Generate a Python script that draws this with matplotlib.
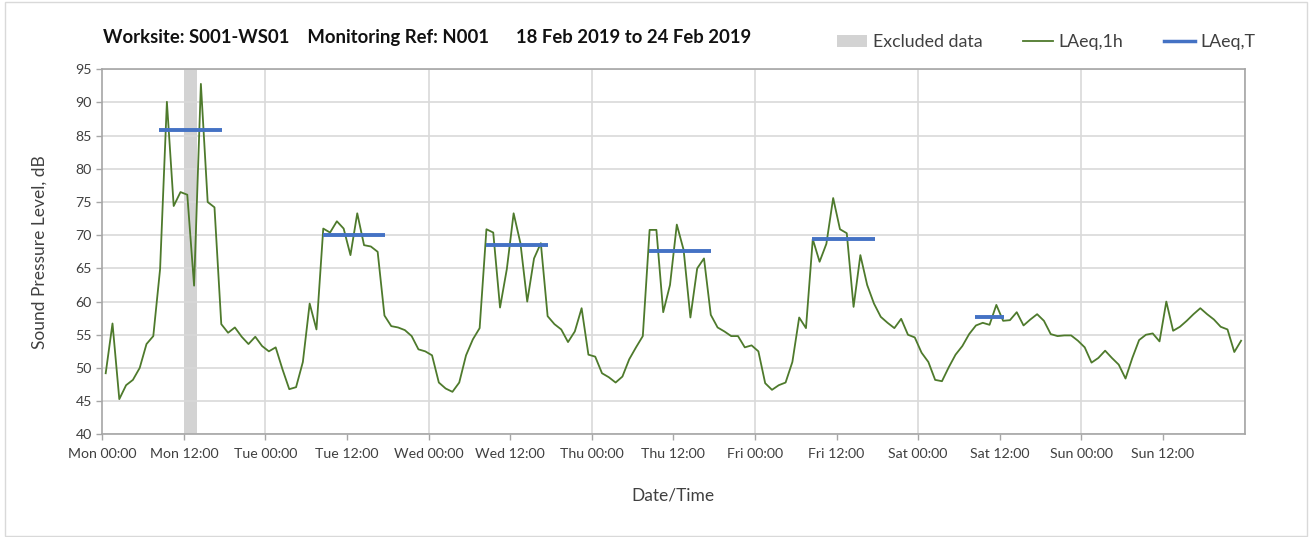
import matplotlib
matplotlib.use("Agg")
import matplotlib.pyplot as plt
import numpy as np
from matplotlib.lines import Line2D
from matplotlib.patches import Patch, Rectangle

plt.rcParams['font.family'] = ['Lato', 'DejaVu Sans']

# hourly LAeq,1h values, Mon 00:00 -> Sun 23:00
laeq_1h = [
    49.2, 56.7, 45.3, 47.4, 48.2, 50.0, 53.6, 54.8, 64.9, 90.1, 74.4, 76.5,
    76.1, 62.4, 92.8, 75.0, 74.2, 56.6, 55.3, 56.1, 54.7, 53.6, 54.7, 53.3,
    52.5, 53.1, 49.8, 46.8, 47.1, 50.9, 59.7, 55.8, 71.0, 70.4, 72.1, 71.0,
    67.0, 73.3, 68.5, 68.3, 67.5, 57.9, 56.3, 56.1, 55.7, 54.8, 52.8, 52.5,
    51.9, 47.8, 46.9, 46.4, 47.8, 51.9, 54.3, 56.0, 70.9, 70.4, 59.1, 64.9,
    73.3, 68.8, 60.0, 66.5, 68.8, 57.8, 56.6, 55.8, 53.9, 55.5, 59.0, 52.0,
    51.7, 49.2, 48.6, 47.8, 48.7, 51.3, 53.1, 54.8, 70.8, 70.8, 58.4, 62.5,
    71.6, 67.8, 57.6, 65.0, 66.5, 58.0, 56.1, 55.5, 54.8, 54.8, 53.1, 53.4,
    52.5, 47.7, 46.7, 47.4, 47.8, 50.9, 57.6, 56.0, 69.4, 66.0, 68.7, 75.6,
    70.9, 70.3, 59.2, 67.0, 62.5, 59.7, 57.7, 56.8, 56.0, 57.4, 55.0, 54.6,
    52.3, 50.9, 48.2, 48.0, 50.1, 52.0, 53.3, 55.1, 56.4, 56.8, 56.5, 59.5,
    57.1, 57.2, 58.4, 56.4, 57.3, 58.1, 57.1, 55.1, 54.8, 54.9, 54.9, 54.1,
    53.1, 50.8, 51.5, 52.6, 51.5, 50.5, 48.4, 51.5, 54.2, 55.0, 55.2, 54.0,
    60.0, 55.6, 56.2, 57.1, 58.1, 59.0, 58.1, 57.3, 56.2, 55.8, 52.4, 54.1,
]

# LAeq,T per working period: (start hour, end hour, level)
laeq_t_start = [8.4, 32.4, 56.4, 80.4, 104.4, 128.4]
laeq_t_end = [17.6, 41.6, 65.6, 89.6, 113.6, 132.6]
laeq_t_level = [85.9, 70.0, 68.6, 67.6, 69.5, 57.6]

# excluded period (hours from Mon 00:00)
excl_start, excl_end = 12, 14

days = ['Mon', 'Tue', 'Wed', 'Thu', 'Fri', 'Sat', 'Sun']
tick_labels = [f'{d} {h}' for d in days for h in ('00:00', '12:00')]

green = '#4e7a2c'
blue = '#4472c4'
grey_band = '#d3d3d3'
grid_c = '#d9d9d9'
axis_c = '#a6a6a6'
text_c = '#404040'

fig = plt.figure(figsize=(13.09, 5.37), dpi=100)
fig.patches.append(Rectangle((5 / 1309, 1 / 537), 1302 / 1309, 534 / 537,
                             transform=fig.transFigure, fill=False,
                             edgecolor='#d9d9d9', linewidth=1))

ax = fig.add_axes([102.3 / 1309, 102.7 / 537, 1142.2 / 1309, 365 / 537])

hours = np.arange(len(laeq_1h)) + 0.5
ax.axvspan(excl_start, excl_end, color=grey_band, lw=0, zorder=1)
ax.plot(hours, laeq_1h, color=green, lw=1.3, zorder=3)
for s, e, v in zip(laeq_t_start, laeq_t_end, laeq_t_level):
    ax.plot([s, e], [v, v], color=blue, lw=2.8, solid_capstyle='butt', zorder=4)

ax.set_xlim(0, 168)
ax.set_ylim(40, 95)
ax.set_yticks(np.arange(40, 96, 5))
ax.set_xticks(np.arange(0, 168, 12))
ax.set_xticklabels(tick_labels)
ax.grid(axis='y', color=grid_c, lw=1.2, zorder=0)
for d in range(1, 8):
    ax.axvline(d * 24, color=grid_c, lw=1.2, zorder=0)

for sp in ax.spines.values():
    sp.set_color(axis_c)
    sp.set_linewidth(1.2)
ax.tick_params(axis='both', colors=axis_c, labelcolor=text_c, labelsize=10.2,
               length=4, width=1)
ax.tick_params(axis='x', pad=6)

ax.set_ylabel('Sound Pressure Level, dB', fontsize=12.5, color=text_c, labelpad=20)
ax.set_xlabel('Date/Time', fontsize=12.5, color=text_c, labelpad=20)

fig.text(103 / 1309, 1 - 37 / 537,
         'Worksite: S001-WS01    Monitoring Ref: N001      18 Feb 2019 to 24 Feb 2019',
         fontsize=13.3, fontweight='bold', color='#111111', va='center', ha='left')

handles = [Patch(color=grey_band, lw=0),
           Line2D([], [], color=green, lw=1.3),
           Line2D([], [], color=blue, lw=2.5)]
fig.legend(handles, ['Excluded data', 'LAeq,1h', 'LAeq,T'], ncol=3,
           loc='center right', bbox_to_anchor=(1271 / 1309, 1 - 42 / 537),
           frameon=False, fontsize=12.8, handlelength=1.7, handletextpad=0.3,
           columnspacing=2.3, labelcolor=text_c, handleheight=0.7)

fig.savefig('out.png', dpi=100)
